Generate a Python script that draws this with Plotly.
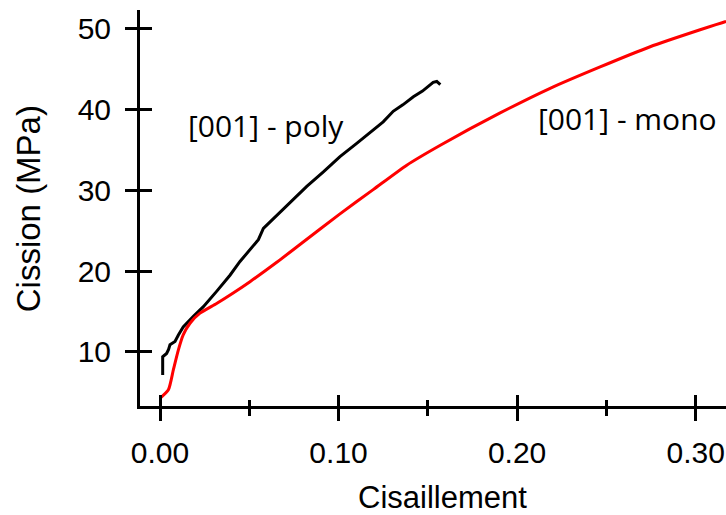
import plotly.graph_objects as go

# [001] - poly (black)
poly_x = [0.0015, 0.0015, 0.0037, 0.0048, 0.0056, 0.0070, 0.0084, 0.0103, 0.0130, 0.0187,
          0.0243, 0.0317, 0.0392, 0.0448, 0.0504, 0.0551, 0.0579, 0.0607, 0.0691, 0.0822,
          0.0915, 0.1008, 0.1100, 0.1194, 0.1250, 0.1306, 0.1360, 0.1419, 0.1470, 0.1530,
          0.1550, 0.1570]
poly_y = [7.15, 9.4, 9.8, 10.3, 10.9, 11.1, 11.3, 12.1, 13.1, 14.4,
          15.6, 17.5, 19.5, 21.2, 22.6, 23.9, 25.3, 25.9, 27.6, 30.5,
          32.3, 34.2, 35.8, 37.5, 38.5, 39.8, 40.6, 41.6, 42.3, 43.4,
          43.5, 43.1]

# [001] - mono (red)
mono_x = [0.0, 0.0047, 0.0075, 0.0103, 0.0130, 0.0168, 0.0224, 0.0317, 0.0410, 0.0504,
          0.0654, 0.0784, 0.1008, 0.1194, 0.1380, 0.1570, 0.1905, 0.2185, 0.2465, 0.2745,
          0.3025, 0.3165, 0.3250]
mono_y = [4.25, 5.3, 7.8, 10.25, 12.1, 13.55, 14.8, 16.0, 17.3, 18.7,
          21.1, 23.3, 27.1, 30.1, 33.1, 35.6, 39.6, 42.65, 45.3, 47.8,
          49.9, 50.9, 51.4]

x_range = [-0.0112, 0.317]
y_range = [3.3, 52.35]

font = "Liberation Sans, Arial, sans-serif"
label_font = "Open Sans, sans-serif"

fig = go.Figure()
fig.add_trace(go.Scatter(x=poly_x, y=poly_y, mode="lines",
                         line=dict(color="black", width=3), showlegend=False))
fig.add_trace(go.Scatter(x=mono_x, y=mono_y, mode="lines",
                         line=dict(color="#ff0000", width=3, shape="spline", smoothing=0.6),
                         showlegend=False))

fig.add_annotation(x=0.0594, y=38.1, text="[001] - poly", showarrow=False,
                   font=dict(family=label_font, size=30, color="black"))
fig.add_annotation(x=0.2616, y=38.85, text="[001] - mono", showarrow=False,
                   font=dict(family=label_font, size=30, color="black"))

# axis titles placed by hand
fig.add_annotation(x=0.5154, y=-0.232, xref="paper", yref="paper", text="Cisaillement",
                   showarrow=False, xanchor="center", yanchor="middle",
                   font=dict(family=font, size=31, color="black"))
fig.add_annotation(x=-0.189, y=0.4975, xref="paper", yref="paper", text="Cission (MPa)",
                   textangle=-90, showarrow=False, xanchor="center", yanchor="middle",
                   font=dict(family=font, size=33, color="black"))

fig.update_layout(
    width=726, height=515,
    margin=dict(l=140, r=0, t=10, b=109),
    plot_bgcolor="white", paper_bgcolor="white",
    font=dict(family=font, size=30, color="black"),
    xaxis=dict(
        range=x_range, tick0=0, dtick=0.1, tickformat=".2f",
        showgrid=False, zeroline=False,
        showline=True, linecolor="black", linewidth=3,
        ticks="outside", ticklen=12, tickwidth=3, tickcolor="black",
        minor=dict(dtick=0.05, ticks="outside", ticklen=7, tickwidth=3, tickcolor="black", showgrid=False),
        ticklabelstandoff=6,
    ),
    yaxis=dict(
        range=y_range, tick0=10, dtick=10,
        showgrid=False, zeroline=False,
        showline=True, linecolor="black", linewidth=3,
        ticks="outside", ticklen=12, tickwidth=3, tickcolor="black",
        ticklabelstandoff=8,
    ),
    # second pair of axes only draws the inner half of the crossing ticks
    xaxis2=dict(
        range=x_range, tick0=0, dtick=0.1, overlaying="x", anchor="y", side="bottom",
        showgrid=False, zeroline=False, showline=False, showticklabels=False,
        ticks="inside", ticklen=11, tickwidth=3, tickcolor="black",
        minor=dict(dtick=0.05, ticks="inside", ticklen=6, tickwidth=3, tickcolor="black", showgrid=False),
    ),
    yaxis2=dict(
        range=y_range, tick0=10, dtick=10, overlaying="y", anchor="x", side="left",
        showgrid=False, zeroline=False, showline=False, showticklabels=False,
        ticks="inside", ticklen=12, tickwidth=3, tickcolor="black",
    ),
)
fig.add_trace(go.Scatter(x=[None], y=[None], xaxis="x2", yaxis="y2", showlegend=False, hoverinfo="skip"))

# drop the default 8px body margin so the figure fills the window exactly
fig.write_html("out.html", config={"displayModeBar": False},
               post_script="document.body.style.margin='0';")
